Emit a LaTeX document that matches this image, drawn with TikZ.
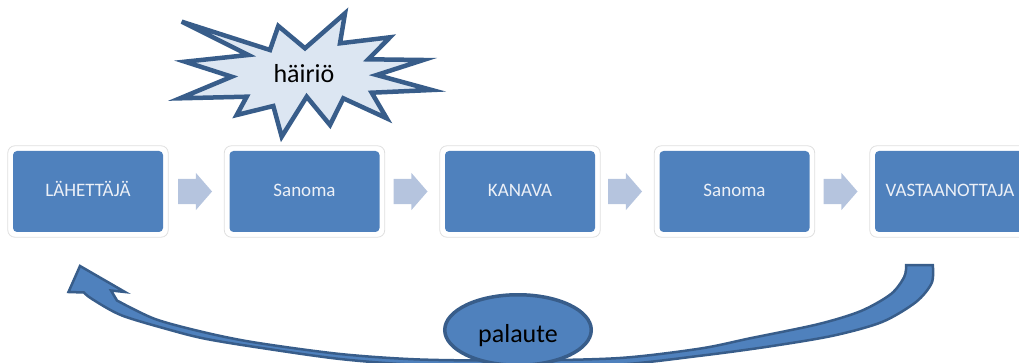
\documentclass[tikz,border=0pt]{standalone}
\usepackage{fontspec}
\setmainfont{Carlito}
\usetikzlibrary{shapes.arrows,shapes.geometric,calc}

\begin{document}
\begin{tikzpicture}[x=1pt,y=-1pt]
  % Colors
  \definecolor{boxcolor}{RGB}{79,129,189}
  \definecolor{edgecolor}{RGB}{56,93,138}
  \definecolor{flowcolor}{RGB}{181,196,222}
  \definecolor{noisecolor}{RGB}{220,230,242}
  \definecolor{labelcolor}{RGB}{236,240,247}
  \definecolor{framecolor}{RGB}{222,222,222}

  % Styles
  \tikzstyle{stage}=[fill=boxcolor,rounded corners=4pt,minimum width=150pt,minimum height=81pt,
    inner sep=0pt,text=labelcolor,font=\fontsize{19}{22}\selectfont,text height=11pt,text depth=0pt]
  \tikzstyle{stage frame}=[draw=framecolor,line width=0.8pt,rounded corners=7pt]
  \tikzstyle{flow}=[single arrow,fill=flowcolor,draw=none,minimum height=34pt,inner xsep=0pt,
    inner ysep=12.5pt,single arrow head extend=6pt,single arrow tip angle=98,anchor=tip]
  \tikzstyle{big text}=[font=\fontsize{26}{30}\selectfont]
  \tikzstyle{noise shape}=[fill=noisecolor,draw=edgecolor,line width=4.5pt]
  \tikzstyle{feedback}=[ellipse,fill=boxcolor,draw=edgecolor,line width=3.5pt,minimum width=146.5pt,
    minimum height=70.5pt,inner sep=0pt,big text,text height=29pt,text depth=5pt]

  \clip (0,0) rectangle (1019,363);

  % The chain
  \node[stage] (sender) at (88,191.5) {LÄHETTÄJÄ};
  \node[stage] (msgA) at (304.5,191.5) {Sanoma};
  \node[stage] (channel) at (520,191.5) {KANAVA};
  \node[stage] (msgB) at (734.5,191.5) {Sanoma};
  \node[stage] (receiver) at (950,191.5) {VASTAANOTTAJA};

  \foreach \n in {sender,msgA,channel,msgB,receiver}
    \draw[stage frame] ([shift={(-5pt,5pt)}]\n.north west) rectangle ([shift={(5pt,-5pt)}]\n.south east);

  \node[flow] (flowA) at ([xshift=-17pt]msgA.west) {};
  \node[flow] (flowB) at ([xshift=-17pt]channel.west) {};
  \node[flow] (flowC) at ([xshift=-17pt]msgB.west) {};
  \node[flow] (flowD) at ([xshift=-17pt]receiver.west) {};

  % Noise
  \draw[noise shape] (181.7,21.7) -- (270,50) -- (278.3,26) -- (305,48.3) -- (345,13.3)
    -- (340,43.3) -- (390,37.3) -- (368.3,59.3) -- (423.3,60) -- (376.7,75) -- (431.7,90)
    -- (371.7,92.7) -- (386.7,118.3) -- (343.3,98.3) -- (330,125) -- (306.7,96.7)
    -- (281.7,136.7) -- (273.3,106) -- (236.7,115) -- (246.7,96.7) -- (180,98.3)
    -- (231.7,76.7) -- (185,61.7) -- (248.3,55) -- cycle;
  \node[big text] (noise) at (304,74) {häiriö};

  % Feedback
  \filldraw[fill=boxcolor,draw=edgecolor,line width=2.5pt]
    plot[smooth] coordinates {(932.8,265.2) (931.7,283) (916,302) (882,322) (832.5,335.8)
      (767,346.8) (700,355.8) (620,364.5) (520,366) (420,365) (340,359) (255,347) (205,338.7)
      (171.7,330.4) (121.7,315.4) (92,299) (84,292.5)}
    -- (68.5,292) -- (80,266) -- (125,292) -- (111,290.5)
    -- plot[smooth] coordinates {(117,300.5) (155,319) (205,332.5) (255,342.5) (340,354)
      (420,359.5) (520,360.5) (620,358) (700,348.6) (750.5,338.2) (818,324.2) (861,311)
      (891,294) (904.2,277) (906.2,265.2)}
    -- cycle;
  \node[feedback] (fb) at (518,330) {palaute};
\end{tikzpicture}
\end{document}
